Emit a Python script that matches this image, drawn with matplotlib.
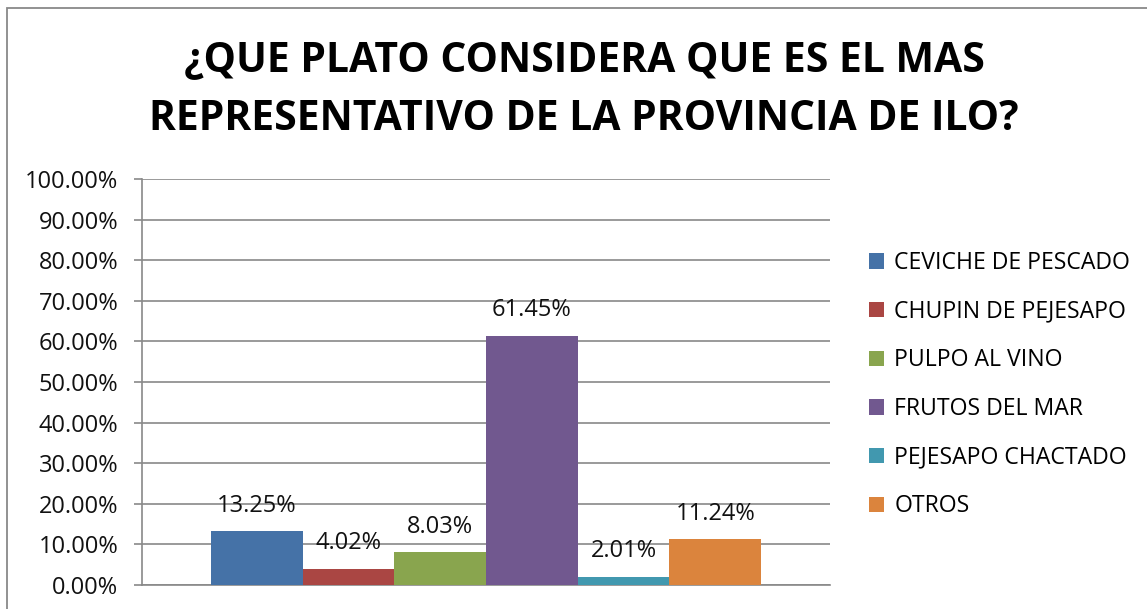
import matplotlib.pyplot as plt
from matplotlib.patches import Rectangle
from matplotlib.ticker import FuncFormatter, MultipleLocator

plt.rcParams["font.family"] = ["Open Sans", "DejaVu Sans"]

TITLE = "¿QUE PLATO CONSIDERA QUE ES EL MAS\nREPRESENTATIVO DE LA PROVINCIA DE ILO?"
platos = ["CEVICHE DE PESCADO", "CHUPIN DE PEJESAPO", "PULPO AL VINO",
          "FRUTOS DEL MAR", "PEJESAPO CHACTADO", "OTROS"]
porcentajes = [0.1325, 0.0402, 0.0803, 0.6145, 0.0201, 0.1124]
colores = ["#4572A7", "#AA4643", "#89A54E", "#71588F", "#4198AF", "#DB843D"]

GRIS = "#898989"

fig = plt.figure(figsize=(11.47, 6.09), dpi=100)
fig.patch.set_facecolor("white")

# marco del gráfico (borde izquierdo y superior)
fig.patches.append(Rectangle((7 / 1147, -0.5), 2.0, (1 - 8 / 609) + 0.5,
                             transform=fig.transFigure, fill=False,
                             edgecolor=GRIS, linewidth=1.3))

ax = fig.add_axes([142 / 1147, 24 / 609, 688 / 1147, 406 / 609])

n = len(platos)
ancho = 0.8 / n
for i, (nombre, val, col) in enumerate(zip(platos, porcentajes, colores)):
    x = (i - (n - 1) / 2) * ancho
    ax.bar(x, val, width=ancho, color=col, label=nombre, zorder=3)
    ax.annotate(f"{val:.2%}", (x, val), xytext=(0, 18.5), textcoords="offset points",
                ha="center", va="center", fontsize=17, color="#111111", zorder=4)

ax.set_xlim(-0.5, 0.5)
ax.set_ylim(0, 1)
ax.yaxis.set_major_locator(MultipleLocator(0.1))
ax.yaxis.set_major_formatter(FuncFormatter(lambda v, _: f"{v:.2%}"))
ax.set_xticks([])
ax.grid(axis="y", color=GRIS, linewidth=1.2, zorder=0)
for s in ("top", "right"):
    ax.spines[s].set_visible(False)
for s in ("left", "bottom"):
    ax.spines[s].set_color(GRIS)
    ax.spines[s].set_linewidth(1.2)
ax.tick_params(axis="y", length=6, width=1.2, color=GRIS, pad=11,
               labelsize=17, labelcolor="#111111")

fig.text(584 / 1147, 1 - 90 / 609, TITLE, ha="center", va="center",
         fontsize=29.4, fontweight="bold", linespacing=1.55)

fig.legend(loc="upper left", bbox_to_anchor=(869 / 1147, 1 - 251 / 609),
           frameon=False, fontsize=16.6, handlelength=0.65, handleheight=0.65,
           handletextpad=0.45, labelspacing=1.07, borderpad=0, borderaxespad=0)

fig.savefig("out.png", dpi=100)
